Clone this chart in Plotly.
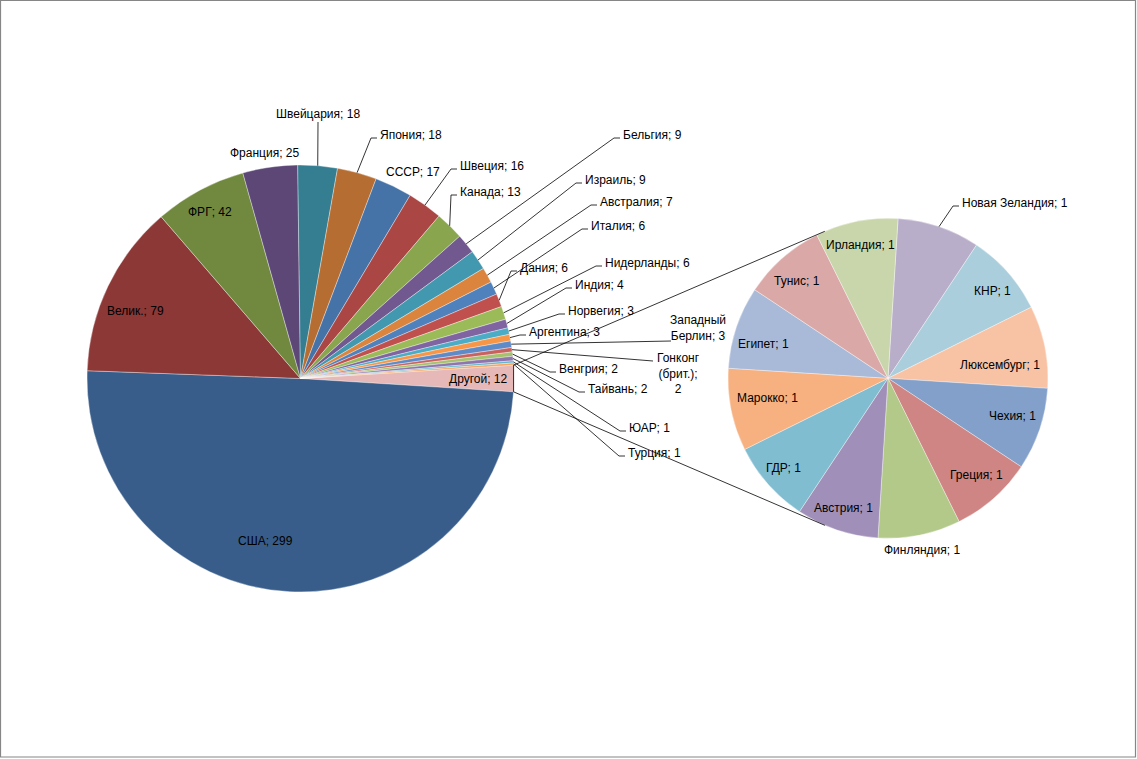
import math
import plotly.graph_objects as go

W, H = 1137, 759

# ---------------- data ----------------
main_countries = ["США", "Велик.", "ФРГ", "Франция", "Швейцария", "Япония", "СССР",
                  "Швеция", "Канада", "Бельгия", "Израиль", "Австралия", "Италия",
                  "Дания", "Нидерланды", "Индия", "Норвегия", "Аргентина",
                  "Западный Берлин", "Гонконг (брит.)", "Венгрия", "Тайвань", "ЮАР", "Турция"]
main_values = [299, 79, 42, 25, 18, 18, 17, 16, 13, 9, 9, 7, 6, 6, 6, 4, 3, 3, 3, 2, 2, 2, 1, 1]

other_label = "Другой"
sec_countries = ["Новая Зеландия", "КНР", "Люксембург", "Чехия", "Греция", "Финляндия",
                 "Австрия", "ГДР", "Марокко", "Египет", "Тунис", "Ирландия"]
sec_values = [1, 1, 1, 1, 1, 1, 1, 1, 1, 1, 1, 1]

# ---------------- style ----------------
main_colors = ["#385D8A", "#8C3836", "#71893F", "#5C4776", "#357D91", "#B66D31",
               "#4572A7", "#AA4643", "#89A54E", "#71588F", "#4198AF", "#DB843D",
               "#4F81BD", "#C0504D", "#9BBB59", "#8064A2", "#4BACC6", "#F79646",
               "#5E8BC7", "#C9625F", "#A6C26C", "#8E75AD", "#62B6CD", "#F8A25C"]
other_color = "#E6B9B8"
sec_colors = ["#B9AEC9", "#AACEDC", "#F8C3A5", "#82A0CA", "#CE8583", "#B3C98A",
              "#A08FB8", "#80BDD1", "#F7B07F", "#A9BAD9", "#DAA8A7", "#C9D6AB"]

FONT = "Liberation Sans"
FS = 12

# pie geometry (pixels)
MAIN_C = (300.5, 378.5)
MAIN_R = 213.5
SEC_C = (888.0, 378.3)
SEC_R = 160.0
SEC_ROT = 3.6

other_value = sum(sec_values)
labels_main = [other_label] + main_countries
values_main = [other_value] + main_values
colors_main = [other_color] + main_colors
total_main = sum(values_main)
main_rot = 90 - other_value / total_main * 360 / 2


def px(x):
    return x / W


def py(y):
    return 1 - y / H


def dom(c, r):
    return dict(x=[px(c[0] - r), px(c[0] + r)], y=[py(c[1] + r), py(c[1] - r)])


fig = go.Figure()
fig.add_trace(go.Pie(labels=labels_main, values=values_main, sort=False,
                     direction="clockwise", rotation=main_rot,
                     marker=dict(colors=colors_main, line=dict(color="rgba(255,255,255,0.6)", width=0.6)),
                     textinfo="none", hoverinfo="label+value", showlegend=False,
                     domain=dom(MAIN_C, MAIN_R)))
fig.add_trace(go.Pie(labels=sec_countries, values=sec_values, sort=False,
                     direction="clockwise", rotation=SEC_ROT,
                     marker=dict(colors=sec_colors, line=dict(color="rgba(255,255,255,0.6)", width=0.6)),
                     textinfo="none", hoverinfo="label+value", showlegend=False,
                     domain=dom(SEC_C, SEC_R)))


def slice_angles(vals, rot):
    tot = sum(vals)
    out = []
    a = rot
    for v in vals:
        b = a + v / tot * 360
        out.append((a, b))
        a = b
    return out


def pt(c, r, ang):
    t = math.radians(ang)
    return (c[0] + r * math.sin(t), c[1] - r * math.cos(t))


main_ang = dict(zip(labels_main, slice_angles(values_main, main_rot)))
sec_ang = dict(zip(sec_countries, slice_angles(sec_values, SEC_ROT)))
val_of = dict(zip(labels_main, values_main))
val_of.update(dict(zip(sec_countries, sec_values)))

# label placement: mode, x, y (pixels)
# 'in' = centered, no leader ; 'left' = text starts at x, leader with elbow
# 'top' = centered above slice with vertical leader ; 'block' = multiline, leader to (ex, ey)
label_pos = {
    "США": ("in", 265, 541), "Велик.": ("in", 135, 311), "ФРГ": ("in", 210, 212),
    "Франция": ("in", 265, 153), "Швейцария": ("top", 318, 114), "Япония": ("left", 378, 135),
    "СССР": ("in", 413, 172), "Швеция": ("left", 458, 166), "Канада": ("left", 458, 192),
    "Бельгия": ("left", 621, 135), "Израиль": ("left", 583, 180), "Австралия": ("left", 598, 202),
    "Италия": ("left", 589, 226), "Дания": ("left", 518, 268), "Нидерланды": ("left", 603, 263),
    "Индия": ("left", 573, 285), "Норвегия": ("left", 566, 311), "Аргентина": ("left", 527, 332),
    "Западный Берлин": ("block", 698, 328, 671, 341), "Гонконг (брит.)": ("block", 678, 373, 653, 361),
    "Венгрия": ("left", 557, 369), "Тайвань": ("left", 586, 389), "ЮАР": ("left", 627, 428),
    "Турция": ("left", 626, 453), "Другой": ("in", 478, 379),
    "Новая Зеландия": ("left", 960, 203), "Ирландия": ("in", 860, 245), "КНР": ("in", 992, 291),
    "Люксембург": ("in", 1000, 365), "Чехия": ("in", 1012, 416), "Греция": ("in", 976, 475),
    "Финляндия": ("in", 922, 550), "Австрия": ("in", 843, 508), "ГДР": ("in", 783, 468),
    "Марокко": ("in", 767, 398), "Египет": ("in", 763, 344), "Тунис": ("in", 797, 281),
}
display_name = {"Западный Берлин": "Западный<br>Берлин", "Гонконг (брит.)": "Гонконг<br>(брит.);<br>"}

annotations = []
shapes = []
LINE = dict(color="#000000", width=0.8)


def seg(x0, y0, x1, y1):
    shapes.append(dict(type="line", xref="paper", yref="paper",
                       x0=px(x0), y0=py(y0), x1=px(x1), y1=py(y1), line=LINE))


for name, spec in label_pos.items():
    v = val_of[name]
    if name in display_name:
        dn = display_name[name]
        text = dn + ("%d" % v) if dn.endswith("<br>") else "%s; %d" % (dn, v)
    else:
        text = "%s; %d" % (name, v)
    mode = spec[0]
    x, y = spec[1], spec[2]
    if name in main_ang:
        a0, a1 = main_ang[name]
        sp = pt(MAIN_C, MAIN_R, (a0 + a1) / 2)
    else:
        a0, a1 = sec_ang[name]
        sp = pt(SEC_C, SEC_R, (a0 + a1) / 2)
    xanchor = "left" if mode == "left" else "center"
    annotations.append(dict(text=text, x=px(x), y=py(y), xref="paper", yref="paper",
                            xanchor=xanchor, yanchor="middle", showarrow=False, align="center",
                            font=dict(family=FONT, size=FS, color="#000000")))
    if mode == "left":
        ex, ey = x - 7, y + 3
        seg(sp[0], sp[1], ex, ey)
        seg(ex, ey, x - 1, ey)
    elif mode == "top":
        seg(sp[0], sp[1], x, y + 8)
    elif mode == "block":
        seg(sp[0], sp[1], spec[3], spec[4])

# series lines of the pie-of-pie: from the ends of the "other" slice, tangent to the secondary pie
o0, o1 = main_ang[other_label]
p_top = pt(MAIN_C, MAIN_R, o0)
p_bot = pt(MAIN_C, MAIN_R, o1)
seg(p_top[0], p_top[1], p_bot[0], p_bot[1])


def tangent(p, upper):
    dx, dy = SEC_C[0] - p[0], SEC_C[1] - p[1]
    d = math.hypot(dx, dy)
    base = math.degrees(math.atan2(-dx, dy))  # angle of C->P, clockwise from top
    off = math.degrees(math.acos(SEC_R / d))
    return pt(SEC_C, SEC_R, base + off if upper else base - off)


t_top = tangent(p_top, True)
t_bot = tangent(p_bot, False)
seg(p_top[0], p_top[1], t_top[0], t_top[1])
seg(p_bot[0], p_bot[1], t_bot[0], t_bot[1])

# chart-area border
shapes.append(dict(type="rect", xref="paper", yref="paper", x0=px(0.5), y0=py(757), x1=px(1135.5), y1=py(0.5),
                   line=dict(color="#868686", width=1.2), fillcolor="rgba(0,0,0,0)"))

fig.update_layout(width=W, height=H, margin=dict(l=0, r=0, t=0, b=0),
                  paper_bgcolor="white", plot_bgcolor="white",
                  annotations=annotations, shapes=shapes,
                  font=dict(family=FONT, size=FS, color="#000000"))

fig.write_html("out.html", config={"displayModeBar": False},
               post_script="document.body.style.margin='0';document.body.style.overflow='hidden';")
